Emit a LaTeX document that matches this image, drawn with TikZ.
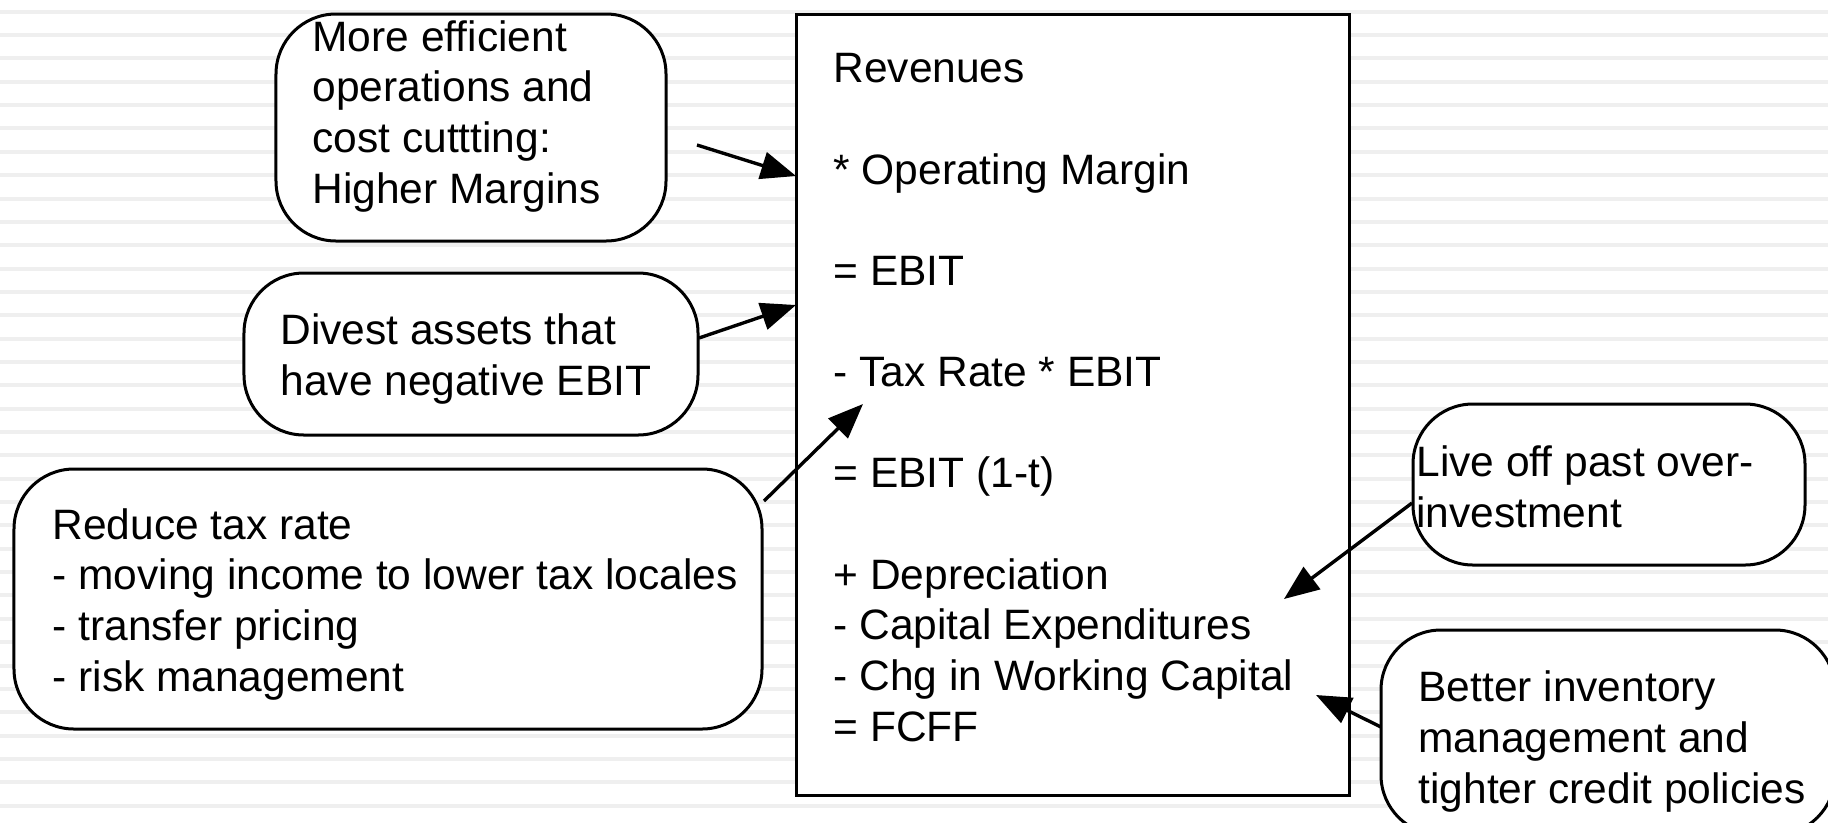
\documentclass[tikz,border=0pt]{standalone}
\usepackage{fontspec}
\setmainfont{Liberation Sans}
\usetikzlibrary{arrows.meta}
\definecolor{stripe}{RGB}{239,239,239}
\begin{document}
\begin{tikzpicture}[x=0.4pt,y=-0.4pt,
  box/.style={draw=black, line width=1.2pt, fill=white, rounded corners=24pt, inner sep=0pt},
  mainbox/.style={draw=black, line width=1.2pt, fill=white, inner sep=0pt},
  txt/.style={anchor=base west, inner sep=0pt, align=left, font=\fontsize{17}{20.25}\selectfont},
  arr/.style={line width=1.35pt, -{Triangle[length=14pt,width=11pt]}}]
\useasboundingbox (0,0) rectangle (1828,822);
\clip (0,0) rectangle (1828,822);
\fill[white] (0,0) rectangle (1828,822);
\foreach \i in {0,...,35}
  \fill[stripe] (0,{9.7+23.35*\i}) rectangle (1828,{13.7+23.35*\i});

% boxes
\node[mainbox, minimum width=221.2pt, minimum height=312.4pt] (main) at (1072.5,404.5) {};
\node[box, minimum width=156pt, minimum height=90.8pt] (A) at (471,127.5) {};
\node[box, minimum width=181.6pt, minimum height=64.8pt] (B) at (471,354) {};
\node[box, minimum width=299.2pt, minimum height=104pt] (C) at (388,599) {};
\node[box, minimum width=156.8pt, minimum height=64.4pt] (D) at (1609,484.5) {};
\node[box, minimum width=181.6pt, minimum height=82pt] (E) at (1608,732.5) {};

% texts (anchored at the baseline of their last line)
\node[txt] (maintext) at (833,741) {Revenues\\[20.25pt]{*} Operating Margin\\[20.25pt]= EBIT\\[20.25pt]- Tax Rate {*} EBIT\\[20.25pt]= EBIT (1-t)\\[20.25pt]+ Depreciation\\- Capital Expenditures\\- Chg in Working Capital\\= FCFF};
\node[txt] (Atext) at (312,203) {More efficient\\operations and\\cost cuttting:\\Higher Margins};
\node[txt] (Btext) at (280,395) {Divest assets that\\have negative EBIT};
\node[txt] (Ctext) at (52,691) {Reduce tax rate\\- moving income to lower tax locales\\- transfer pricing\\- risk management};
\node[txt] (Dtext) at (1416,527) {Live off past over-\\investment};
\node[txt] (Etext) at (1418,803) {Better inventory\\management and\\tighter credit policies};

% arrow ends
\coordinate (a1s) at (697,145);
\coordinate (a1e) at (796,176);
\coordinate (a2s) at (699,338);
\coordinate (a2e) at (796,305);
\coordinate (a3s) at (764,501);
\coordinate (a3e) at (863,404);
\coordinate (a4s) at (1412,503);
\coordinate (a4e) at (1284,599);
\coordinate (a5s) at (1381,727);
\coordinate (a5e) at (1316,695);

\draw[arr] (a1s) -- (a1e);
\draw[arr] (a2s) -- (a2e);
\draw[arr] (a3s) -- (a3e);
\draw[arr] (a4s) -- (a4e);
\draw[arr] (a5s) -- (a5e);
\end{tikzpicture}
\end{document}
